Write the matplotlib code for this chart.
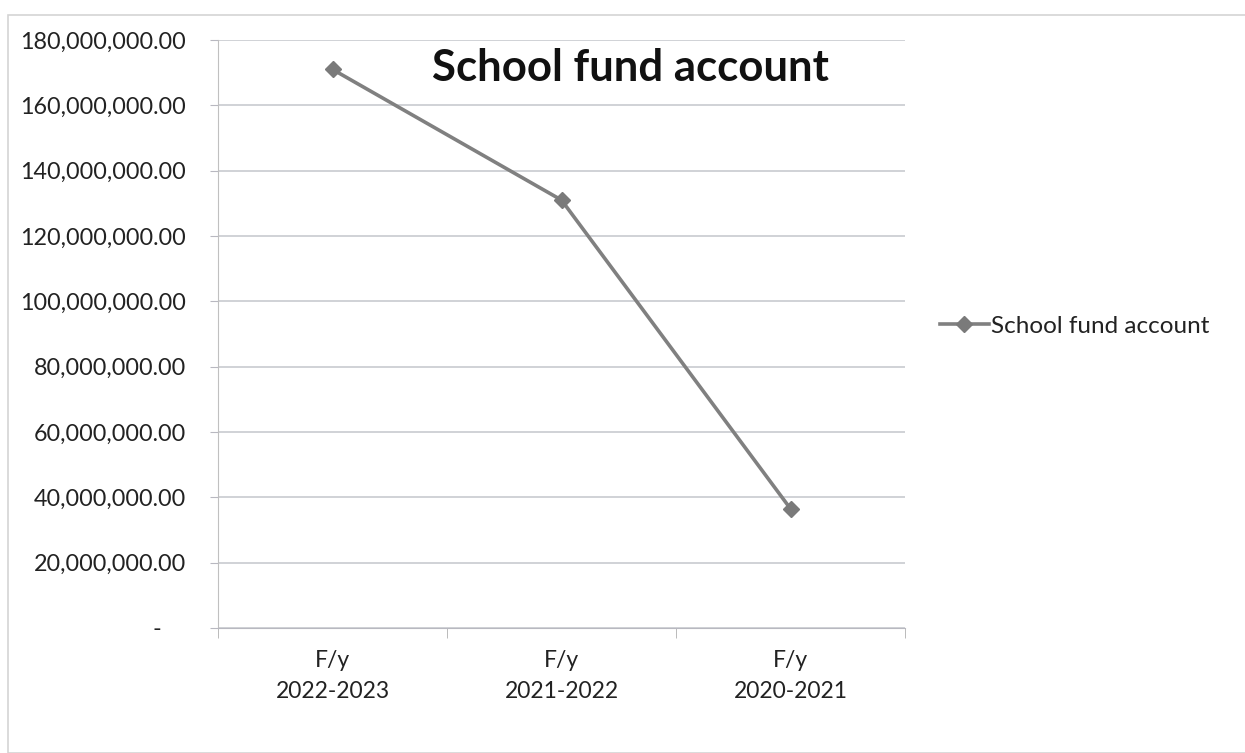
import matplotlib
matplotlib.use('Agg')
import matplotlib.pyplot as plt
from matplotlib.ticker import FuncFormatter, FixedLocator

plt.rcParams['font.family'] = ['Lato', 'DejaVu Sans']

years = ['F/y\n2022-2023', 'F/y\n2021-2022', 'F/y\n2020-2021']
fund = [171000000, 131000000, 36500000]
series_name = 'School fund account'

fig = plt.figure(figsize=(12.45, 7.53), dpi=100)
ax = fig.add_axes([218/1245, 1 - 628/753, (905-218)/1245, (628-40)/753])

# outer chart border
fig.patches.append(plt.Rectangle((8/1245, 0), 1, 1 - 15/753, transform=fig.transFigure,
                                 fill=False, edgecolor='#d4d4d4', linewidth=1.2))

x = list(range(len(years)))
ax.plot(x, fund, color='#808080', linewidth=2.6, marker='D', markersize=8,
        markerfacecolor='#7a7a7a', markeredgecolor='#7a7a7a', label=series_name)

ax.set_xlim(-0.5, len(years) - 0.5)
ax.set_ylim(0, 180000000)
ax.set_yticks(range(0, 180000001, 20000000))

def money(v, pos):
    if v == 0:
        return '-    '
    return '{:,.2f}'.format(v)

ax.yaxis.set_major_formatter(FuncFormatter(money))
ax.set_xticks(x)
ax.set_xticklabels(years, linespacing=1.55)
ax.xaxis.set_minor_locator(FixedLocator([-0.5, 0.5, 1.5, 2.5]))
ax.tick_params(axis='x', which='major', length=0, pad=16, labelsize=16.5, colors='#222222')
ax.tick_params(axis='x', which='minor', length=7, color='#b0b0b0', direction='out')
ax.tick_params(axis='y', length=6, color='#b8b8c0', pad=17, labelsize=16.8, labelcolor='#222222')

ax.grid(axis='y', color='#c4c6cc', linewidth=1.1)
ax.set_axisbelow(True)
for s in ['top', 'right']:
    ax.spines[s].set_visible(False)
ax.spines['left'].set_color('#c0c0c0')
ax.spines['bottom'].set_color('#b8b8c0')

ax.text(0.6, 0.952, series_name, transform=ax.transAxes, ha='center', va='center',
        fontsize=31.5, fontweight='bold', color='#111111')

fig.legend(loc='center left', bbox_to_anchor=(928/1245, 1 - 326/753), frameon=False,
           fontsize=17.5, handlelength=2.0, handletextpad=0.1, borderpad=0,
           labelcolor='#222222')

fig.savefig('out.png', dpi=100)
